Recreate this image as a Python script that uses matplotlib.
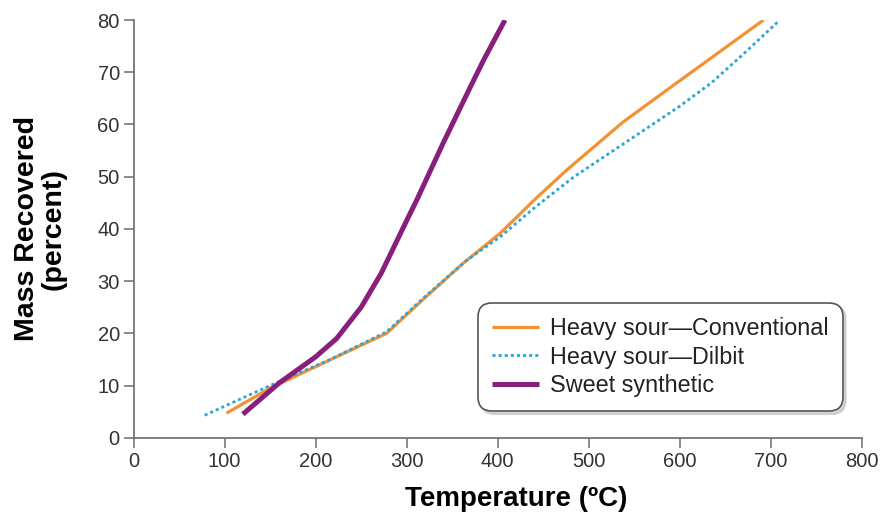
#!/usr/bin/env python3
import matplotlib
matplotlib.use("Agg")
import matplotlib.pyplot as plt

plt.rcParams["font.family"] = ["Liberation Sans", "DejaVu Sans"]

# values
conv_temp = [102, 150, 223, 278, 320, 362, 403, 440, 476, 538, 597, 692]
conv_mass = [4.7, 9.5, 15.5, 20.0, 26.8, 33.4, 39.2, 45.5, 51.3, 60.5, 68.0, 80.0]

dilbit_temp = [78, 150, 216, 278, 320, 366, 403, 440, 484, 540, 600, 635, 670, 710]
dilbit_mass = [4.3, 10.0, 15.0, 20.3, 27.0, 34.0, 38.5, 44.0, 50.0, 56.5, 63.5, 68.0, 73.5, 80.0]

sweet_temp = [120, 160, 200, 223, 250, 272, 300, 311, 340, 370, 385, 408]
sweet_mass = [4.5, 10.5, 15.5, 19.0, 25.0, 31.5, 41.6, 45.5, 56.4, 67.2, 72.5, 80.0]

labels = ["Heavy sour\u2014Conventional", "Heavy sour\u2014Dilbit", "Sweet synthetic"]

fig = plt.figure(figsize=(8.84, 5.14), dpi=100)
ax = fig.add_axes([0.1512, 0.1484, 0.8236, 0.8126])

ax.plot(conv_temp, conv_mass, color="#F39233", lw=2.3, label=labels[0],
        solid_capstyle="butt")
ax.plot(dilbit_temp, dilbit_mass, color="#2AA6D6", lw=2.0, ls=(0, (1.1, 1.1)),
        label=labels[1])
ax.plot(sweet_temp, sweet_mass, color="#871F7D", lw=3.6, label=labels[2],
        solid_capstyle="butt")

ax.set_xlim(0, 800)
ax.set_ylim(0, 80)
ax.set_xticks(range(0, 801, 100))
ax.set_yticks(range(0, 81, 10))

for s in ["top", "right"]:
    ax.spines[s].set_visible(False)
for s in ["left", "bottom"]:
    ax.spines[s].set_color("#6b6b6b")
    ax.spines[s].set_linewidth(1.2)
ax.tick_params(direction="out", length=7, width=1.1, color="#6b6b6b",
               labelsize=14.5, labelcolor="#333333", pad=3)

ax.set_xlabel("Temperature (\u00baC)", fontsize=20, fontweight="bold")
ax.xaxis.set_label_coords(0.525, -0.115)
ax.set_ylabel("Mass Recovered\n(percent)", fontsize=20.5, fontweight="bold",
              linespacing=1.05)
ax.yaxis.set_label_coords(-0.092, 0.5)

leg = ax.legend(loc="upper left", bbox_to_anchor=(0.473, 0.323), fontsize=16.8,
                handlelength=2.0, handletextpad=0.5, labelspacing=0.25,
                borderpad=0.6, borderaxespad=0, fancybox=True, frameon=True,
                shadow={"color": "#bbbbbb", "alpha": 0.6})
frame = leg.get_frame()
frame.set_edgecolor("#555555")
frame.set_linewidth(1.2)
frame.set_boxstyle("round,pad=0,rounding_size=0.6")
for t in leg.get_texts():
    t.set_color("#222222")

fig.savefig("out.png", dpi=100)
